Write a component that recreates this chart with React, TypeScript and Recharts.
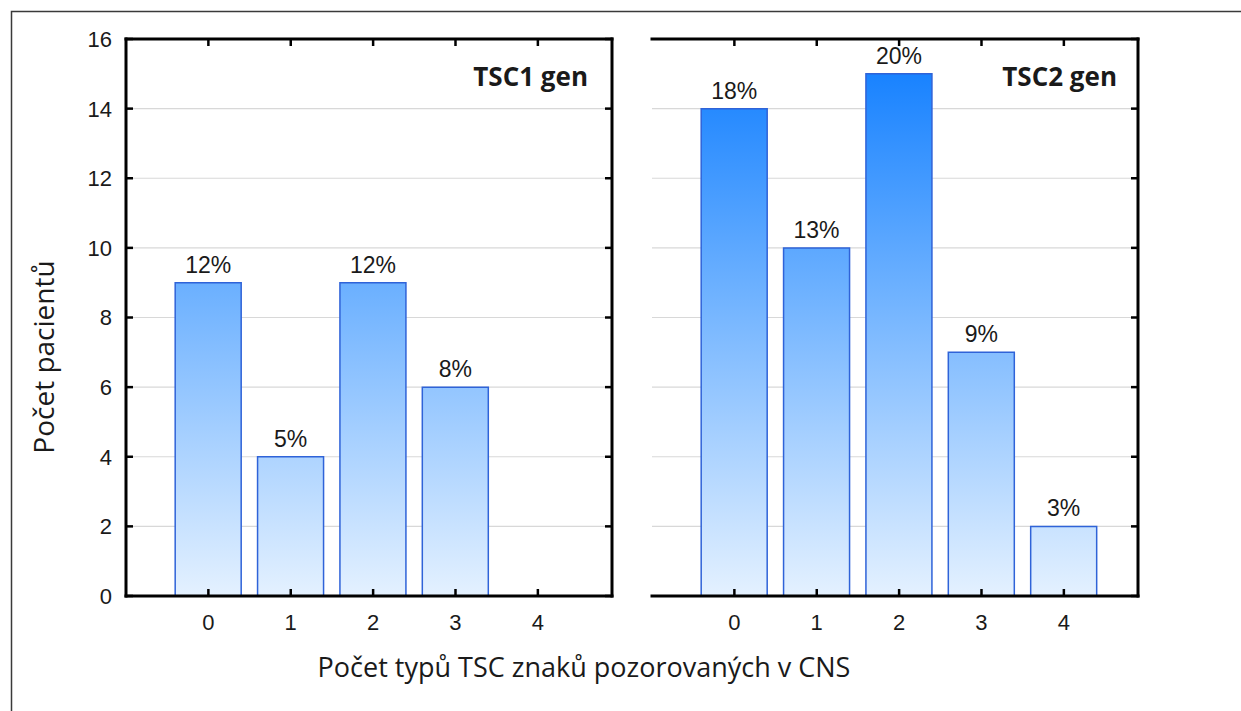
import React from 'react';
import { BarChart, Bar, XAxis, YAxis, CartesianGrid, LabelList } from 'recharts';

// Number of distinct TSC signs observed in the CNS (x categories)
const categories = [0, 1, 2, 3, 4];
// Patient counts per category, TSC1 and TSC2 groups
const tsc1Counts = [9, 4, 9, 6, 0];
const tsc2Counts = [14, 10, 15, 7, 2];
// Share of all patients shown above each bar
const tsc1Percent = ['12%', '5%', '12%', '8%', ''];
const tsc2Percent = ['18%', '13%', '20%', '9%', '3%'];
// Y axis ticks
const yTicks = [0, 2, 4, 6, 8, 10, 12, 14, 16];
const xDomain: [number, number] = [-1, 4.9];
const yDomain: [number, number] = [0, 16];

const panelTitles = ['TSC1 gen', 'TSC2 gen'];
const yTitle = 'Počet pacientů';
const xTitle = 'Počet typů TSC znaků pozorovaných v CNS';

const buildRows = (counts: number[], pct: string[]) =>
  categories.map((c, i) => ({ k: c, count: counts[i], pct: pct[i] }));

const tsc1Data = buildRows(tsc1Counts, tsc1Percent);
const tsc2Data = buildRows(tsc2Counts, tsc2Percent);

const TICK_FONT = '"Liberation Sans", Arial, sans-serif';
const TITLE_FONT = '"Open Sans", sans-serif';
const TEXT = '#1a1a1a';
const TICK_LEN = 7;

const frameLine = { stroke: '#000', strokeWidth: 3, strokeLinecap: 'square' as const };

const BottomTick = (props: any) => {
  const { x, y, payload } = props;
  return (
    <g>
      <line x1={x} x2={x} y1={y} y2={y - TICK_LEN} stroke="#000" strokeWidth={2.5} />
      <text x={x} y={y + 34} textAnchor="middle" fontSize={22} fontFamily={TICK_FONT} fill={TEXT}>
        {payload.value}
      </text>
    </g>
  );
};

const TopTick = (props: any) => {
  const { x, y } = props;
  return <line x1={x} x2={x} y1={y} y2={y + TICK_LEN} stroke="#000" strokeWidth={2.5} />;
};

const LeftTickLabeled = (props: any) => {
  const { x, y, payload } = props;
  return (
    <g>
      <line x1={x} x2={x + TICK_LEN} y1={y} y2={y} stroke="#000" strokeWidth={2.5} />
      <text x={x - 14} y={y} dy="0.36em" textAnchor="end" fontSize={22} fontFamily={TICK_FONT} fill={TEXT}>
        {payload.value}
      </text>
    </g>
  );
};

const LeftTick = (props: any) => {
  const { x, y } = props;
  return <line x1={x} x2={x + TICK_LEN} y1={y} y2={y} stroke="#000" strokeWidth={2.5} />;
};

const RightTick = (props: any) => {
  const { x, y } = props;
  return <line x1={x} x2={x - TICK_LEN} y1={y} y2={y} stroke="#000" strokeWidth={2.5} />;
};

type PanelProps = {
  data: { k: number; count: number; pct: string }[];
  gradientId: string;
  width: number;
  margin: { top: number; right: number; bottom: number; left: number };
  yAxisWidth: number;
  showYLabels: boolean;
};

const Panel = ({ data, gradientId, width, margin, yAxisWidth, showYLabels }: PanelProps) => (
  <BarChart width={width} height={711} data={data} margin={margin}>
    <defs>
      <linearGradient id={gradientId} gradientUnits="userSpaceOnUse" x1="0" y1="39" x2="0" y2="596">
        <stop offset="0%" stopColor="#0b7bff" />
        <stop offset="45%" stopColor="#6db1ff" />
        <stop offset="100%" stopColor="#e4f1ff" />
      </linearGradient>
    </defs>
    <CartesianGrid vertical={false} stroke="#d8d8d8" strokeWidth={1.2} />
    <Bar
      dataKey="count"
      barSize={66}
      fill={`url(#${gradientId})`}
      stroke="#2f63d8"
      strokeWidth={1.5}
      isAnimationActive={false}
    >
      <LabelList
        dataKey="pct"
        position="top"
        offset={10}
        fill={TEXT}
        fontSize={23}
        fontFamily={TICK_FONT}
      />
    </Bar>
    <XAxis
      dataKey="k"
      type="number"
      domain={xDomain}
      ticks={categories}
      allowDataOverflow
      height={30}
      tickSize={0}
      tickMargin={0}
      tick={BottomTick}
      axisLine={frameLine}
      tickLine={false}
      interval={0}
    />
    <XAxis
      xAxisId="top"
      orientation="top"
      dataKey="k"
      type="number"
      domain={xDomain}
      ticks={categories}
      allowDataOverflow
      height={1}
      tickSize={0}
      tickMargin={0}
      tick={TopTick}
      axisLine={frameLine}
      tickLine={false}
      interval={0}
    />
    <YAxis
      type="number"
      domain={yDomain}
      ticks={yTicks}
      allowDataOverflow
      width={yAxisWidth}
      tickSize={0}
      tickMargin={0}
      tick={showYLabels ? LeftTickLabeled : LeftTick}
      axisLine={frameLine}
      tickLine={false}
      interval={0}
    />
    <YAxis
      yAxisId="right"
      orientation="right"
      type="number"
      domain={yDomain}
      ticks={yTicks}
      allowDataOverflow
      width={1}
      tickSize={0}
      tickMargin={0}
      tick={RightTick}
      axisLine={frameLine}
      tickLine={false}
      interval={0}
    />
  </BarChart>
);

export default function App() {
  return (
    <div
      style={{
        position: 'absolute',
        left: 0,
        top: 0,
        width: 1241,
        height: 711,
        overflow: 'hidden',
        background: '#fff',
      }}
    >
      <div style={{ position: 'absolute', left: 0, top: 0 }}>
        <Panel
          data={tsc1Data}
          gradientId="tsc1Fill"
          width={640}
          margin={{ top: 38, right: 27, bottom: 85, left: 66 }}
          yAxisWidth={60}
          showYLabels
        />
      </div>
      <div style={{ position: 'absolute', left: 640, top: 0 }}>
        <Panel
          data={tsc2Data}
          gradientId="tsc2Fill"
          width={601}
          margin={{ top: 38, right: 102, bottom: 85, left: 12 }}
          yAxisWidth={0}
          showYLabels={false}
        />
      </div>
      <svg
        width={1241}
        height={711}
        style={{ position: 'absolute', left: 0, top: 0, pointerEvents: 'none' }}
      >
        <path d="M11.5 711 V11.5 H1241" fill="none" stroke="#3a3a3a" strokeWidth={1.5} />
        <text x={588} y={86} textAnchor="end" fontSize={26} fontWeight={700} fontFamily={TITLE_FONT} fill={TEXT}>
          {panelTitles[0]}
        </text>
        <text x={1117} y={86} textAnchor="end" fontSize={26} fontWeight={700} fontFamily={TITLE_FONT} fill={TEXT}>
          {panelTitles[1]}
        </text>
        <text
          transform="translate(54 357) rotate(-90)"
          textAnchor="middle"
          fontSize={28}
          fontFamily={TITLE_FONT}
          fill={TEXT}
        >
          {yTitle}
        </text>
        <text x={584} y={677} textAnchor="middle" fontSize={27} fontFamily={TITLE_FONT} fill={TEXT}>
          {xTitle}
        </text>
      </svg>
    </div>
  );
}
